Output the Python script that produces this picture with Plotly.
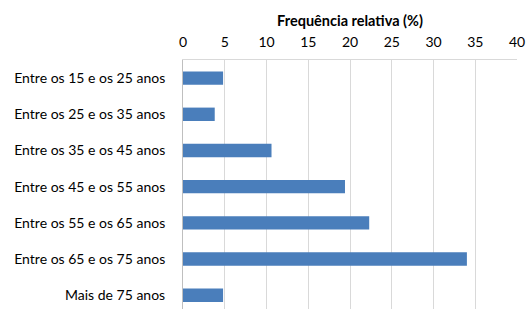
import plotly.graph_objects as go

categories = [
    "Entre os 15 e os 25 anos",
    "Entre os 25 e os 35 anos",
    "Entre os 35 e os 45 anos",
    "Entre os 45 e os 55 anos",
    "Entre os 55 e os 65 anos",
    "Entre os 65 e os 75 anos",
    "Mais de 75 anos",
]
values = [4.8, 3.8, 10.6, 19.4, 22.3, 34.0, 4.8]
x_ticks = [0, 5, 10, 15, 20, 25, 30, 35, 40]

fig = go.Figure(go.Bar(
    x=values, y=categories, orientation="h",
    marker=dict(color="#4A7EBB", line=dict(width=0)),
))

font = "Lato, Open Sans, sans-serif"
fig.update_layout(
    width=527, height=309,
    margin=dict(l=183, r=10, t=60, b=0, autoexpand=False),
    paper_bgcolor="white", plot_bgcolor="white",
    bargap=0.63,
    showlegend=False,
    font=dict(family=font, color="#000000", size=13),
)
fig.update_xaxes(
    side="top", range=[0, 40], tickvals=x_ticks,
    showgrid=True, gridcolor="#D9D9D9", gridwidth=1,
    showline=True, linecolor="#D9D9D9", linewidth=1,
    zeroline=False, automargin=False,
    tickfont=dict(size=14, family=font),
    ticklabelstandoff=6,
    title=dict(text="<b>Frequência relativa (%)</b>", font=dict(size=14.5, family=font), standoff=3),
)
fig.update_yaxes(
    range=[6.38, -0.5],
    showgrid=False, automargin=False,
    showline=True, linecolor="#BFBFBF", linewidth=1,
    tickfont=dict(size=14, family=font),
    ticklabelstandoff=14,
)

fig.write_html(
    "out.html",
    config={"displayModeBar": False},
    post_script="document.body.style.margin='0';document.body.style.overflow='hidden';",
)
